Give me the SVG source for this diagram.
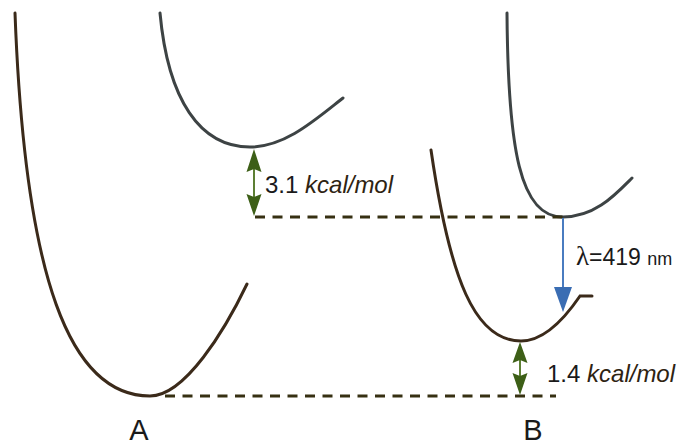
<svg xmlns="http://www.w3.org/2000/svg" width="681" height="443" viewBox="0 0 681 443">
<style>
.ground{fill:none;stroke:#3b2a1a;stroke-width:3;stroke-linecap:round}
.excited{fill:none;stroke:#3d4344;stroke-width:3;stroke-linecap:round}
.dash{fill:none;stroke:#363012;stroke-width:3;stroke-dasharray:10 7.5}
.gshaft{stroke:#5d7f34;stroke-width:2}
.ghead{fill:#3d5f17}
.bshaft{stroke:#4a7cc0;stroke-width:2}
.bhead{fill:#3a6db3}
.t{font-family:"Liberation Sans",Arial,sans-serif;fill:#1a1a1a}
.it{font-style:italic;fill:#2e2312}
</style>
<rect width="681" height="443" fill="#fff"/>
<g id="curve-A-ground"><path class="ground" d="M15,13 C25,280 70,396 150,396 C185,396 225,330 247,284"/></g>
<g id="curve-A-excited"><path class="excited" d="M160,13 C168,100 200,147 250,147 C285,147 315,120 343,98"/></g>
<g id="curve-B-ground"><path class="ground" d="M431,150 C450,280 475,341 521,341 C545,341 565,318 580,296 L592,296"/></g>
<g id="curve-B-excited"><path class="excited" d="M507,13 C508,150 520,217 563,217 C595,217 615,195 632,178"/></g>
<g id="connectors">
<line class="dash" x1="255" y1="217" x2="563" y2="217"/>
<line class="dash" x1="165" y1="396" x2="556" y2="396"/>
<line class="gshaft" x1="254" y1="168" x2="254" y2="197"/>
<polygon class="ghead" points="254,149 261.5,172 254,169 246.5,172"/>
<polygon class="ghead" points="254,216 261.5,194 254,197 246.5,194"/>
<line class="gshaft" x1="520" y1="360" x2="520" y2="376"/>
<polygon class="ghead" points="520,342 527.5,363 520,360 512.5,363"/>
<polygon class="ghead" points="520,395 527.5,373 520,376 512.5,373"/>
<line class="bshaft" x1="563" y1="218" x2="563" y2="290"/>
<polygon class="bhead" points="554,287 572,287 563,312"/>
</g>
<g id="label-31"><text class="t" x="265" y="193" font-size="24">3.1 <tspan class="it">kcal/mol</tspan></text></g>
<g id="label-14"><text class="t" x="547" y="382" font-size="24">1.4 <tspan class="it">kcal/mol</tspan></text></g>
<g id="label-lambda"><text class="t" x="576" y="265" font-size="23"><tspan font-family="'Liberation Serif',serif" font-size="27">λ</tspan>=419 <tspan font-size="18">nm</tspan></text></g>
<g id="label-A"><text class="t" x="139" y="440" font-size="29" text-anchor="middle">A</text></g>
<g id="label-B"><text class="t" x="533" y="440" font-size="29" text-anchor="middle">B</text></g>
</svg>
